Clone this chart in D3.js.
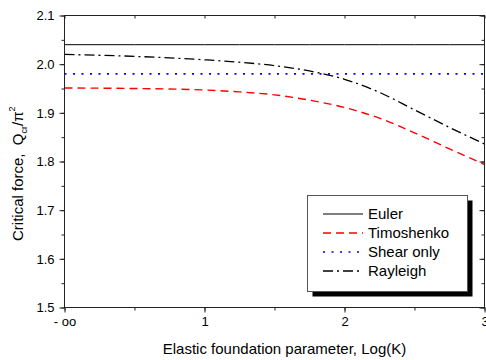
<!DOCTYPE html>
<html>
<head>
<meta charset="utf-8">
<script src="https://cdn.jsdelivr.net/npm/d3@7"></script>
<style>
  html, body { margin: 0; padding: 0; background: #fff; }
  svg { display: block; font-family: Arial, "Liberation Sans", sans-serif; }
</style>
</head>
<body>
<svg id="chart" width="486" height="360"></svg>
<script>
// log(K) positions along the foundation-parameter axis (0 stands for K = 0, i.e. "- oo")
const logK = [0, 0.5, 1, 1.25, 1.5, 1.75, 2, 2.25, 2.5, 2.75, 3];

// Normalised critical force Q_cr / pi^2 for each beam theory
const euler      = [2.04, 2.04, 2.04, 2.04, 2.04, 2.04, 2.04, 2.04, 2.04, 2.04, 2.04];
const timoshenko = [1.951, 1.950, 1.947, 1.943, 1.937, 1.926, 1.911, 1.889, 1.859, 1.826, 1.794];
const shearOnly  = [1.98, 1.98, 1.98, 1.98, 1.98, 1.98, 1.98, 1.98, 1.98, 1.98, 1.98];
const rayleigh   = [2.020, 2.016, 2.009, 2.004, 1.997, 1.986, 1.969, 1.942, 1.906, 1.870, 1.836];

const seriesNames = ["Euler", "Timoshenko", "Shear only", "Rayleigh"];

// Tick values and labels
const xTicks = [0, 1, 2, 3];
const xTickLabels = ["- oo", "1", "2", "3"];
const yTicks = [1.5, 1.6, 1.7, 1.8, 1.9, 2.0, 2.1];

const svg = d3.select("#chart");

const plotLeft = 64.5, plotRight = 484.5, plotTop = 15.5, plotBottom = 307.5;

const x = d3.scaleLinear().domain([0, 3]).range([plotLeft, plotRight]);
const y = d3.scaleLinear().domain([1.5, 2.1]).range([plotBottom, plotTop]);

const styles = [
  { color: "#000", dash: null, width: 1 },
  { color: "#ff0000", dash: "8,5", width: 1.4 },
  { color: "#0000ff", dash: "2,6.5", width: 1.6 },
  { color: "#000", dash: "10,4,2,4", width: 1.3 }
];
const allSeries = [euler, timoshenko, shearOnly, rayleigh];

// Clip curves to the plotting frame
svg.append("clipPath").attr("id", "plot-clip")
  .append("rect").attr("x", plotLeft).attr("y", plotTop)
  .attr("width", plotRight - plotLeft).attr("height", plotBottom - plotTop);

const line = d3.line()
  .x((d, i) => x(logK[i]))
  .y(d => y(d))
  .curve(d3.curveMonotoneX);

const curves = svg.append("g").attr("clip-path", "url(#plot-clip)");
allSeries.forEach((vals, k) => {
  curves.append("path")
    .attr("d", line(vals))
    .attr("fill", "none")
    .attr("stroke", styles[k].color)
    .attr("stroke-width", styles[k].width)
    .attr("stroke-dasharray", styles[k].dash);
});

// Axes: labelled bottom/left with outward ticks, mirrored top/right with inward ticks
const minorX = d3.range(0, 3.01, 0.5);
const minorY = d3.range(1.5, 2.101, 0.05);

const axColor = "#222";

function styleAxis(g) {
  g.select(".domain").remove();
  g.selectAll("line").attr("stroke", axColor);
  g.selectAll("text").attr("fill", "#000").style("font-size", "13px")
    .style("font-family", "Arial, 'Liberation Sans', sans-serif");
}

// Minor ticks
svg.append("g").attr("transform", `translate(0,${plotBottom})`)
  .call(d3.axisBottom(x).tickValues(minorX).tickSize(3).tickFormat(""))
  .call(styleAxis);
svg.append("g").attr("transform", `translate(0,${plotTop})`)
  .call(d3.axisBottom(x).tickValues(minorX).tickSize(3).tickFormat(""))
  .call(styleAxis);
svg.append("g").attr("transform", `translate(${plotLeft},0)`)
  .call(d3.axisLeft(y).tickValues(minorY).tickSize(3).tickFormat(""))
  .call(styleAxis);
svg.append("g").attr("transform", `translate(${plotRight},0)`)
  .call(d3.axisLeft(y).tickValues(minorY).tickSize(3).tickFormat(""))
  .call(styleAxis);

// Major ticks with labels
svg.append("g").attr("transform", `translate(0,${plotBottom})`)
  .call(d3.axisBottom(x).tickValues(xTicks).tickSize(5).tickPadding(4)
    .tickFormat((d, i) => xTickLabels[i]))
  .call(styleAxis);
svg.append("g").attr("transform", `translate(${plotLeft},0)`)
  .call(d3.axisLeft(y).tickValues(yTicks).tickSize(5).tickPadding(5)
    .tickFormat(d3.format(".1f")))
  .call(styleAxis);
svg.append("g").attr("transform", `translate(${plotRight},0)`)
  .call(d3.axisLeft(y).tickValues(yTicks).tickSize(5).tickFormat(""))
  .call(styleAxis);

// Frame
svg.append("rect")
  .attr("x", plotLeft).attr("y", plotTop)
  .attr("width", plotRight - plotLeft).attr("height", plotBottom - plotTop)
  .attr("fill", "none").attr("stroke", axColor).attr("stroke-width", 1);

// Axis titles
svg.append("text")
  .attr("x", (plotLeft + plotRight) / 2 + 10).attr("y", 354)
  .attr("text-anchor", "middle")
  .style("font-size", "15px")
  .text("Elastic foundation parameter, Log(K)");

const yTitle = svg.append("text")
  .attr("transform", "translate(23,241) rotate(-90)")
  .attr("text-anchor", "start")
  .style("font-size", "15px");
yTitle.append("tspan").attr("xml:space", "preserve").text("Critical force,  Q");
yTitle.append("tspan").style("font-size", "9px").attr("dy", 4).text("cr");
yTitle.append("tspan").attr("dy", -4).text("/\u03c0");
yTitle.append("tspan").style("font-size", "9px").attr("dy", -8).text("2");

// Legend with drop shadow
const lg = { x: 307.5, y: 195.5, w: 160, h: 96 };
svg.append("rect")
  .attr("x", lg.x + 5).attr("y", lg.y + 5)
  .attr("width", lg.w).attr("height", lg.h)
  .attr("fill", "#000");
svg.append("rect")
  .attr("x", lg.x).attr("y", lg.y)
  .attr("width", lg.w).attr("height", lg.h)
  .attr("fill", "#fff").attr("stroke", "#555").attr("stroke-width", 1);

seriesNames.forEach((name, k) => {
  const ry = 214 + k * 19;
  svg.append("line")
    .attr("x1", 323).attr("x2", 363)
    .attr("y1", ry).attr("y2", ry)
    .attr("stroke", styles[k].color)
    .attr("stroke-width", styles[k].width)
    .attr("stroke-dasharray", styles[k].dash);
  svg.append("text")
    .attr("x", 368).attr("y", ry + 5)
    .style("font-size", "15px")
    .text(name);
});
</script>
</body>
</html>
